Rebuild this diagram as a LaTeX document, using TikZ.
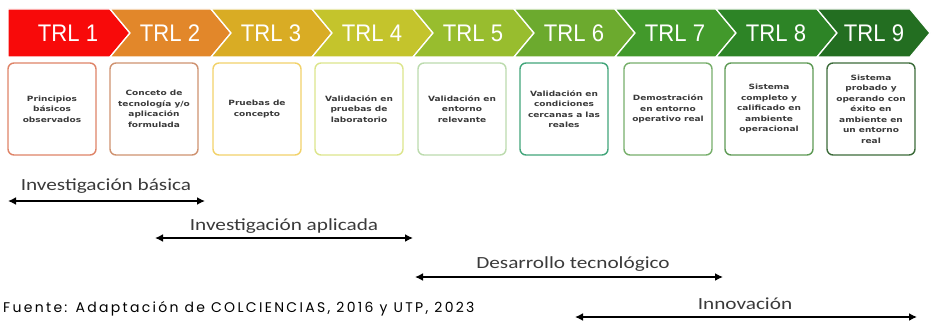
\documentclass[tikz,border=0pt]{standalone}
\usepackage{fontspec}
\setmainfont{Liberation Sans}
\newfontfamily\trlfont[FakeStretch=0.92]{Liberation Sans}
\newfontfamily\stagefont[FakeStretch=1.25]{DejaVu Sans}
\newfontfamily\phasefont[FakeStretch=1.25]{Carlito}
\newfontfamily\srcfont[LetterSpace=16.5]{Poppins}
\usetikzlibrary{positioning}
\usetikzlibrary{arrows.meta}
\definecolor{trlA}{HTML}{F80A0A}
\definecolor{trlB}{HTML}{E2872A}
\definecolor{trlC}{HTML}{D9AC24}
\definecolor{trlD}{HTML}{C4C42C}
\definecolor{trlE}{HTML}{98BD2E}
\definecolor{trlF}{HTML}{6CAA2E}
\definecolor{trlG}{HTML}{42992B}
\definecolor{trlH}{HTML}{2D8426}
\definecolor{trlI}{HTML}{236E21}
\definecolor{bdA}{HTML}{DF8468}
\definecolor{bdB}{HTML}{CF9270}
\definecolor{bdC}{HTML}{F2D26A}
\definecolor{bdD}{HTML}{DCE58C}
\definecolor{bdE}{HTML}{BCDBAE}
\definecolor{bdF}{HTML}{42A57A}
\definecolor{bdG}{HTML}{77AF6B}
\definecolor{bdH}{HTML}{5E9A55}
\definecolor{bdI}{HTML}{3C6B3A}
\definecolor{txtgray}{HTML}{3A3A3A}
\tikzset{
    chevron/.style = {draw=white, line width=1.3pt, line join=miter},
    trllabel/.style = {text=white, anchor=base, inner sep=0, font=\trlfont\fontsize{24}{24}\selectfont},
    stagebox/.style = {rectangle, rounded corners=6pt, line width=1.4pt, fill=white, minimum width=88pt, minimum height=92pt, inner sep=1pt, align=center, text=txtgray, font=\stagefont\bfseries\fontsize{7.2}{10.5}\selectfont},
    phase/.style = {anchor=base, inner sep=0, text=txtgray, font=\phasefont\fontsize{17}{17}\selectfont},
    edgep/.style = {{Latex[length=8pt,width=8pt]}-{Latex[length=8pt,width=8pt]}, line width=2.8pt, black},
}
\begin{document}
\begin{tikzpicture}[x=1pt,y=-1pt]
\useasboundingbox (0,0) rectangle (934,321);
% chevrons
\filldraw[chevron,fill=trlA] (8,9) -- (110,9) -- (130,33) -- (110,57) -- (8,57) -- cycle;
\filldraw[chevron,fill=trlB] (110,9) -- (211,9) -- (231,33) -- (211,57) -- (110,57) -- (130,33) -- cycle;
\filldraw[chevron,fill=trlC] (211,9) -- (312,9) -- (332,33) -- (312,57) -- (211,57) -- (231,33) -- cycle;
\filldraw[chevron,fill=trlD] (312,9) -- (413,9) -- (433,33) -- (413,57) -- (312,57) -- (332,33) -- cycle;
\filldraw[chevron,fill=trlE] (413,9) -- (514,9) -- (534,33) -- (514,57) -- (413,57) -- (433,33) -- cycle;
\filldraw[chevron,fill=trlF] (514,9) -- (615,9) -- (635,33) -- (615,57) -- (514,57) -- (534,33) -- cycle;
\filldraw[chevron,fill=trlG] (615,9) -- (716,9) -- (736,33) -- (716,57) -- (615,57) -- (635,33) -- cycle;
\filldraw[chevron,fill=trlH] (716,9) -- (817,9) -- (837,33) -- (817,57) -- (716,57) -- (736,33) -- cycle;
\filldraw[chevron,fill=trlI] (817,9) -- (910,9) -- (930,33) -- (910,57) -- (817,57) -- (837,33) -- cycle;
\node[trllabel] at (68,42) (trl1) {TRL 1};
\node[trllabel] at (170,42) (trl2) {TRL 2};
\node[trllabel] at (271,42) (trl3) {TRL 3};
\node[trllabel] at (372,42) (trl4) {TRL 4};
\node[trllabel] at (473,42) (trl5) {TRL 5};
\node[trllabel] at (574,42) (trl6) {TRL 6};
\node[trllabel] at (675,42) (trl7) {TRL 7};
\node[trllabel] at (776,42) (trl8) {TRL 8};
\node[trllabel] at (874,42) (trl9) {TRL 9};
%
\node[stagebox,draw=bdA] at (52,109) (s1) {Principios\\básicos\\observados};
\node[stagebox,draw=bdB] at (154,109) (s2) {Conceto de\\tecnología y/o\\aplicación\\formulada};
\node[stagebox,draw=bdC] at (257,109) (s3) {Pruebas de\\concepto};
\node[stagebox,draw=bdD] at (359,109) (s4) {Validación en\\pruebas de\\laboratorio};
\node[stagebox,draw=bdE] at (462,109) (s5) {Validación en\\entorno\\relevante};
\node[stagebox,draw=bdF] at (564,109) (s6) {Validación en\\condiciones\\cercanas a las\\reales};
\node[stagebox,draw=bdG] at (668,109) (s7) {Demostración\\en entorno\\operativo real};
\node[stagebox,draw=bdH] at (769,109) (s8) {Sistema\\completo y\\calificado en\\ambiente\\operacional};
\node[stagebox,draw=bdI] at (871,109) (s9) {Sistema\\probado y\\operando con\\éxito en\\ambiente en\\un entorno\\real};
%
\node[phase] at (106,190) (ib) {Investigación básica};
\node[phase] at (284,230) (ia) {Investigación aplicada};
\node[phase] at (573,268) (dt) {Desarrollo tecnológico};
\node[phase] at (745,309) (in) {Innovación};
\coordinate (ibl) at (8,201);
\coordinate (ibr) at (205,201);
\coordinate (ial) at (155,238);
\coordinate (iar) at (413,238);
\coordinate (dtl) at (415,277);
\coordinate (dtr) at (723,277);
\coordinate (inl) at (575,317);
\coordinate (inr) at (917,317);
\draw[edgep] (ibl) -- (ibr);
\draw[edgep] (ial) -- (iar);
\draw[edgep] (dtl) -- (dtr);
\draw[edgep] (inl) -- (inr);
%
\node[anchor=base west, inner sep=0, text=black, font=\srcfont\fontsize{14}{14}\selectfont] at (3,312) (src) {Fuente: Adaptación de COLCIENCIAS, 2016 y UTP, 2023};
\end{tikzpicture}
\end{document}
